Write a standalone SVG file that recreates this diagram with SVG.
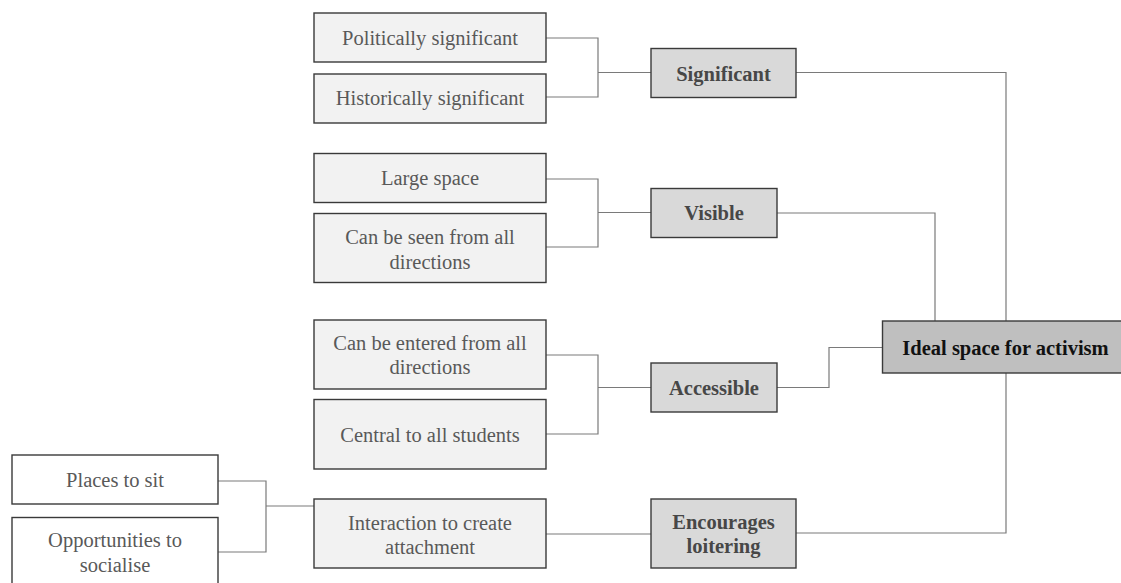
<svg xmlns="http://www.w3.org/2000/svg" width="1121" height="583" viewBox="0 0 1121 583">
<style>
.box{stroke:#3a3a3a;stroke-width:1.4}
.leaf{fill:#f2f2f2}
.white{fill:#ffffff}
.mid{fill:#d9d9d9}
.root{fill:#bfbfbf}
.t{font-family:'Liberation Serif','DejaVu Serif',serif;font-size:20.5px;fill:#595959;text-anchor:middle}
.b{font-family:'Liberation Serif','DejaVu Serif',serif;font-size:20.5px;font-weight:bold;fill:#474747;text-anchor:middle}
.rt{fill:#111111}
.c{fill:none;stroke:#7a7a7a;stroke-width:1.2}
</style>
<rect width="1121" height="583" fill="#ffffff"/>
<g id="connectors">
<polyline class="c" points="546,38 598,38 598,97 546,97"/>
<line class="c" x1="598" y1="72.5" x2="651" y2="72.5"/>
<polyline class="c" points="546,179 598,179 598,247 546,247"/>
<line class="c" x1="598" y1="212.5" x2="651" y2="212.5"/>
<polyline class="c" points="546,355 598,355 598,434 546,434"/>
<line class="c" x1="598" y1="387.5" x2="651" y2="387.5"/>
<polyline class="c" points="218,481 266,481 266,552 218,552"/>
<line class="c" x1="266" y1="506" x2="314" y2="506"/>
<line class="c" x1="546" y1="534" x2="651" y2="534"/>
<polyline class="c" points="796,72.5 1006,72.5 1006,321"/>
<polyline class="c" points="777,213 935,213 935,321"/>
<polyline class="c" points="777,387.5 829,387.5 829,347.5 882,347.5"/>
<polyline class="c" points="796,533 1006,533 1006,373"/>
</g>
<g id="politically"><rect class="box leaf" x="314" y="13" width="232" height="49"/><text class="t" x="430" y="45">Politically significant</text></g>
<g id="historically"><rect class="box leaf" x="314" y="74" width="232" height="49"/><text class="t" x="430" y="105">Historically significant</text></g>
<g id="significant"><rect class="box mid" x="651" y="48.5" width="145" height="49"/><text class="b" x="723.5" y="80.5">Significant</text></g>
<g id="large"><rect class="box leaf" x="314" y="153.5" width="232" height="49"/><text class="t" x="430" y="185">Large space</text></g>
<g id="seen"><rect class="box leaf" x="314" y="213.5" width="232" height="69"/><text class="t" x="430" y="244">Can be seen from all</text><text class="t" x="430" y="268.5">directions</text></g>
<g id="visible"><rect class="box mid" x="651" y="188.5" width="126" height="49"/><text class="b" x="714" y="220">Visible</text></g>
<g id="entered"><rect class="box leaf" x="314" y="320" width="232" height="69"/><text class="t" x="430" y="349.5">Can be entered from all</text><text class="t" x="430" y="374">directions</text></g>
<g id="central"><rect class="box leaf" x="314" y="399.5" width="232" height="69.5"/><text class="t" x="430" y="442">Central to all students</text></g>
<g id="accessible"><rect class="box mid" x="651" y="363" width="126" height="49"/><text class="b" x="714" y="394.5">Accessible</text></g>
<g id="places"><rect class="box white" x="12" y="455" width="206" height="49"/><text class="t" x="115" y="486.5">Places to sit</text></g>
<g id="opportunities"><rect class="box white" x="12" y="517.5" width="206" height="72"/><text class="t" x="115" y="547">Opportunities to</text><text class="t" x="115" y="571.5">socialise</text></g>
<g id="interaction"><rect class="box leaf" x="314" y="499" width="232" height="69"/><text class="t" x="430" y="529.5">Interaction to create</text><text class="t" x="430" y="554">attachment</text></g>
<g id="encourages"><rect class="box mid" x="651" y="499" width="145" height="69"/><text class="b" x="723.5" y="529">Encourages</text><text class="b" x="723.5" y="553">loitering</text></g>
<g id="ideal"><rect class="box root" x="882.5" y="321" width="246" height="52"/><text class="b rt" x="1005.5" y="355">Ideal space for activism</text></g>
</svg>
